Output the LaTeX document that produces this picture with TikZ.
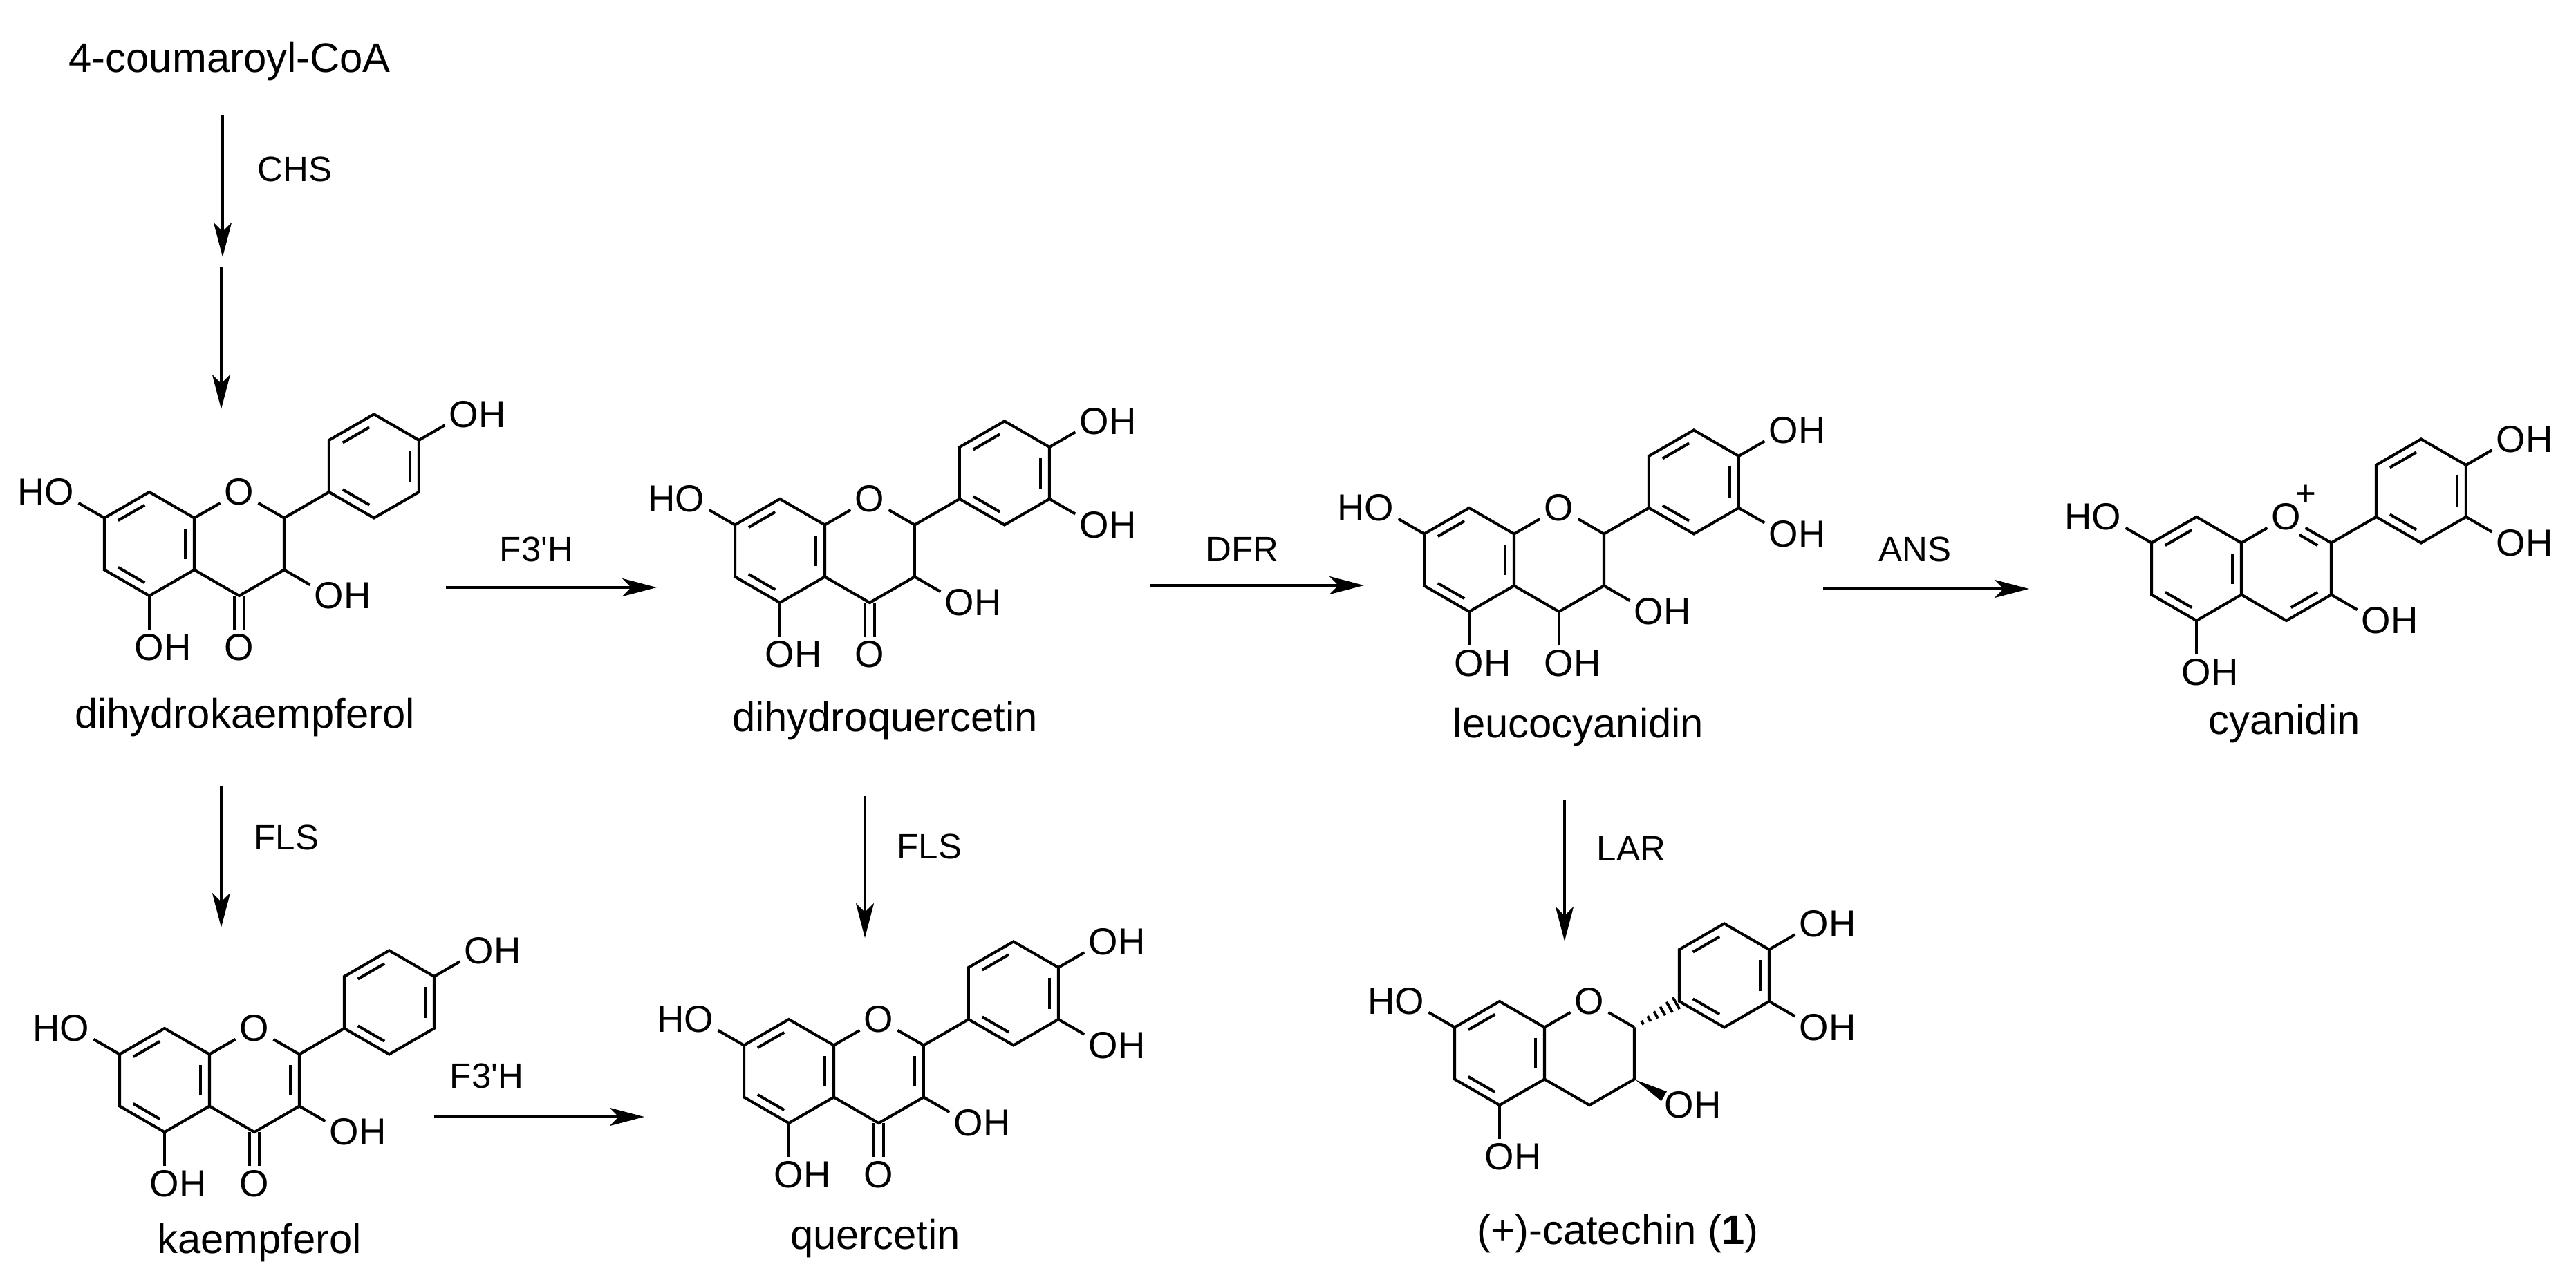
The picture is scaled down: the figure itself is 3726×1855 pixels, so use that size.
\documentclass[tikz,border=0pt]{standalone}
\usepackage{fontspec}
\setmainfont{Liberation Sans}
\usetikzlibrary{calc,arrows.meta}
\newcommand\afont{\fontsize{15.5pt}{17pt}\selectfont}
\newcommand\nfont{\fontsize{17pt}{20pt}\selectfont}
\newcommand\efont{\fontsize{14.5pt}{17pt}\selectfont}
\tikzset{
  bond/.style={line width=1.15pt},
  atom/.style={font=\afont, inner sep=1.6pt},
  arr/.style={line width=1.15pt,-{Stealth[length=5mm,width=2.6mm,inset=1.3mm]}},
  enz/.style={font=\efont, inner sep=0pt},
  mname/.style={font=\nfont, anchor=base, inner sep=0pt}
}
\newcommand\dbl[3]{\draw[bond] ($(#1)!0.13!(#2)!0.2!(#3)$) -- ($(#2)!0.13!(#1)!0.2!(#3)$);}
\newcommand\skel[1]{%
  \coordinate (#1A) at (0,0);
  \coordinate (#1C8) at (0,1);
  \coordinate (#1C8a) at (0.866,0.5);
  \coordinate (#1C4a) at (0.866,-0.5);
  \coordinate (#1C5) at (0,-1);
  \coordinate (#1C6) at (-0.866,-0.5);
  \coordinate (#1C7) at (-0.866,0.5);
  \coordinate (#1Cc) at (1.732,0);
  \coordinate (#1C2) at (2.598,0.5);
  \coordinate (#1C3) at (2.598,-0.5);
  \coordinate (#1C4) at (1.732,-1);
  \node[atom] (#1O1) at (1.732,1) {O};
  \coordinate (#1B) at (4.330,1.5);
  \coordinate (#1B1) at (3.464,1);
  \coordinate (#1B2) at (3.464,2);
  \coordinate (#1B3) at (4.330,2.5);
  \coordinate (#1B4) at (5.196,2);
  \coordinate (#1B5) at (5.196,1);
  \coordinate (#1B6) at (4.330,0.5);
  \draw[bond] (#1C7)--(#1C8)--(#1C8a)--(#1C4a)--(#1C5)--(#1C6)--cycle;
  \dbl{#1C7}{#1C8}{#1A}\dbl{#1C8a}{#1C4a}{#1A}\dbl{#1C5}{#1C6}{#1A}
  \draw[bond] (#1C8a) -- (#1O1) -- (#1C2);
  \draw[bond] (#1C2) -- (#1C3) -- (#1C4) -- (#1C4a);
  \draw[bond] (#1B1)--(#1B2)--(#1B3)--(#1B4)--(#1B5)--(#1B6)--cycle;
  \dbl{#1B2}{#1B3}{#1B}\dbl{#1B4}{#1B5}{#1B}\dbl{#1B6}{#1B1}{#1B}
  \node[atom] (#1O7) at (-1.732,1) {\llap{H}O};
  \draw[bond] (#1C7) -- (#1O7);
  \node[atom] (#1O5) at (0,-2) {O\rlap{H}};
  \draw[bond] (#1C5) -- (#1O5);
  \node[atom] (#1O4p) at (6.062,2.5) {O\rlap{H}};
  \draw[bond] (#1B4) -- (#1O4p);
}
\newcommand\threeOH[1]{%
  \node[atom] (#1O3p) at (6.062,0.5) {O\rlap{H}};
  \draw[bond] (#1B5) -- (#1O3p);}
\newcommand\ketone[1]{%
  \node[atom] (#1O4) at (1.732,-2) {O};
  \draw[bond] ([xshift=-0.7mm]#1C4) -- ([xshift=-0.7mm]#1O4.north);
  \draw[bond] ([xshift=0.7mm]#1C4) -- ([xshift=0.7mm]#1O4.north);}
\newcommand\threeol[1]{%
  \node[atom] (#1O3) at (3.464,-1) {O\rlap{H}};
  \draw[bond] (#1C3) -- (#1O3);}
\newcommand\Fth{F3\textquotesingle H}
\begin{document}
\begin{tikzpicture}[x=0.01cm,y=-0.01cm]
\useasboundingbox (0,0) rectangle (3726,1855);
\begin{scope}[shift={(216,787)},x=0.75cm,y=0.75cm]
  \skel{a}\ketone{a}\threeol{a}
  \draw[bond] (aC2) -- (aB1);
\end{scope}
\begin{scope}[shift={(1128,797)},x=0.75cm,y=0.75cm]
  \skel{b}\threeOH{b}\ketone{b}\threeol{b}
  \draw[bond] (bC2) -- (bB1);
\end{scope}
\begin{scope}[shift={(2125,810)},x=0.75cm,y=0.75cm]
  \skel{c}\threeOH{c}\threeol{c}
  \node[atom] (cO4) at (1.732,-2) {O\rlap{H}};
  \draw[bond] (cC4) -- (cO4);
  \draw[bond] (cC2) -- (cB1);
\end{scope}
\begin{scope}[shift={(3177,823)},x=0.75cm,y=0.75cm]
  \skel{d}\threeOH{d}\threeol{d}
  \draw[bond] (dC2) -- (dB1);
  \draw[bond] ($(dO1)!0.36!(dC2)!0.2!(dCc)$) -- ($(dC2)!0.13!(dO1)!0.2!(dCc)$);
  \dbl{dC3}{dC4}{dCc}
  \node[font=\efont, inner sep=0pt] (dplus) at ($(dO1)+(0.38,0.42)$) {+};
\end{scope}
\begin{scope}[shift={(238,1563)},x=0.75cm,y=0.75cm]
  \skel{e}\ketone{e}\threeol{e}
  \draw[bond] (eC2) -- (eB1);
  \dbl{eC2}{eC3}{eCc}
\end{scope}
\begin{scope}[shift={(1141,1550)},x=0.75cm,y=0.75cm]
  \skel{f}\threeOH{f}\ketone{f}\threeol{f}
  \draw[bond] (fC2) -- (fB1);
  \dbl{fC2}{fC3}{fCc}
\end{scope}
\begin{scope}[shift={(2169,1524)},x=0.75cm,y=0.75cm]
  \skel{g}\threeOH{g}
  \node[atom] (gO3) at (3.464,-1) {O\rlap{H}};
  \fill ($(gC3)!0.03!(gO3)$) -- ($(gC3)!0.66!(gO3)!0.8mm!90:(gO3)$) -- ($(gC3)!0.66!(gO3)!0.8mm!-90:(gO3)$) -- cycle;
  \foreach \t in {0.18,0.33,0.48,0.63,0.78,0.93}{
    \pgfmathsetmacro\w{0.15+0.9*\t}
    \draw[line width=1.1pt] ($(gC2)!\t!(gB1)!\w mm!90:(gB1)$) -- ($(gC2)!\t!(gB1)!\w mm!-90:(gB1)$);
  }
\end{scope}
\node[font=\nfont, anchor=base west, inner sep=0pt] (coum) at (99,105) {4-coumaroyl-CoA};
\node[mname] (ndhk) at (354,1053) {dihydrokaempferol};
\node[mname] (ndhq) at (1280,1058) {dihydroquercetin};
\node[mname] (nleu) at (2283,1067) {leucocyanidin};
\node[mname] (ncya) at (3304,1062) {cyanidin};
\node[mname] (nkae) at (375,1813) {kaempferol};
\node[mname] (nque) at (1266,1807) {quercetin};
\node[mname] (ncat) at (2340,1800) {(+)-catechin (\textbf{1})};
\coordinate (p1) at (322,167); \coordinate (p2) at (322,372);
\draw[arr] (p1) -- (p2);
\node[enz, anchor=west] (lchs) at (372,245) {CHS};
\coordinate (p3) at (320,387); \coordinate (p4) at (320,592);
\draw[arr] (p3) -- (p4);
\coordinate (p5) at (645,850); \coordinate (p6) at (950,850);
\draw[arr] (p5) -- (p6);
\node[enz] (lf3a) at (776,795) {\Fth};
\coordinate (p7) at (1664,847); \coordinate (p8) at (1973,847);
\draw[arr] (p7) -- (p8);
\node[enz] (ldfr) at (1797,795) {DFR};
\coordinate (p9) at (2637,852); \coordinate (p10) at (2935,852);
\draw[arr] (p9) -- (p10);
\node[enz] (lans) at (2770,795) {ANS};
\coordinate (p11) at (320,1137); \coordinate (p12) at (320,1342);
\draw[arr] (p11) -- (p12);
\node[enz, anchor=west] (lfls1) at (367,1212) {FLS};
\coordinate (p13) at (1251,1152); \coordinate (p14) at (1251,1357);
\draw[arr] (p13) -- (p14);
\node[enz, anchor=west] (lfls2) at (1297,1225) {FLS};
\coordinate (p15) at (2263,1158); \coordinate (p16) at (2263,1362);
\draw[arr] (p15) -- (p16);
\node[enz, anchor=west] (llar) at (2309,1228) {LAR};
\coordinate (p17) at (628,1616); \coordinate (p18) at (932,1616);
\draw[arr] (p17) -- (p18);
\node[enz] (lf3b) at (704,1557) {\Fth};
\end{tikzpicture}
\end{document}
